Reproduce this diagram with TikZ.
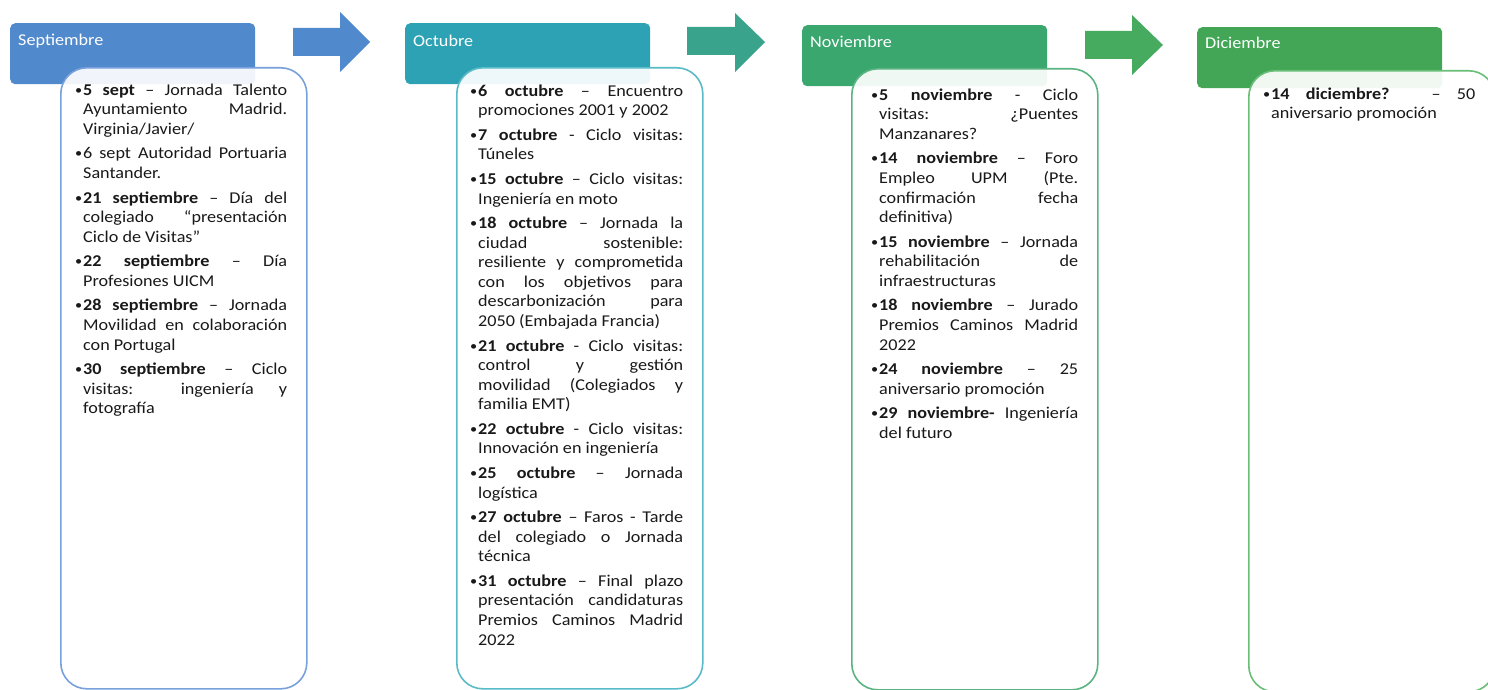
\documentclass[tikz,border=0pt]{standalone}
\usepackage{fontspec}
\setmainfont{Carlito}[FakeStretch=1.1]
\definecolor{sepC}{RGB}{80,137,204}
\definecolor{octC}{RGB}{44,162,180}
\definecolor{novC}{RGB}{58,167,110}
\definecolor{decC}{RGB}{66,166,86}
\definecolor{arrA}{RGB}{80,137,204}
\definecolor{arrB}{RGB}{58,163,140}
\definecolor{arrC}{RGB}{70,170,95}
\definecolor{sepB}{RGB}{120,160,218}
\definecolor{octB}{RGB}{90,187,200}
\definecolor{novB}{RGB}{90,180,130}
\definecolor{decB}{RGB}{105,190,120}
\definecolor{txtC}{RGB}{25,25,25}
\newlength\colw
\newcommand\bul{\makebox[6pt][l]{\hspace*{-2pt}\raisebox{1pt}{\fontsize{13}{13}\selectfont •}}}
\newcommand\jfirst[1]{\hbox to\colw{\bul#1}}
\newcommand\jcont[1]{\hbox to\colw{\hskip6pt\relax#1}}
\newcommand\lastl[1]{\hbox{\hskip6pt\relax#1}}
\newcommand\pg{\vskip4.9pt\relax}
\begin{document}
\begin{tikzpicture}[x=1pt,y=-1pt,
  hdr/.style={draw=none,minimum width=245pt,minimum height=61pt,rounded corners=5pt,inner sep=0pt,anchor=north west},
  hdrtxt/.style={inner sep=0pt,anchor=base west,text=white,font=\fontsize{16.5}{19.6}\selectfont},
  arr/.style={draw=none},
  bx/.style={minimum width=246pt,minimum height=621pt,rounded corners=26pt,line width=1.6pt,fill=white,fill opacity=0.92,inner sep=0pt,anchor=north west},
  txt/.style={inner sep=0pt,anchor=north west,text=txtC,font=\fontsize{16.5}{19.6}\selectfont}]
\useasboundingbox (0,0) rectangle (1488,690);
\clip (0,0) rectangle (1488,690);
% headers
\node[hdr,fill=sepC] (hsep) at (10,23) {};
\node[hdr,fill=octC] (hoct) at (405,23) {};
\node[hdr,fill=novC] (hnov) at (802,25) {};
\node[hdr,fill=decC] (hdec) at (1197,27) {};
\node[hdrtxt] (lsep) at (18,46) {Septiembre};
\node[hdrtxt] (loct) at (413,47) {Octubre};
\node[hdrtxt] (lnov) at (810,48) {Noviembre};
\node[hdrtxt] (ldec) at (1205,49) {Diciembre};
% arrows
\fill[arr,fill=arrA] (293,28) -- (340,28) -- (340,12) -- (370,42) -- (340,72) -- (340,56) -- (293,56) -- cycle;
\fill[arr,fill=arrB] (687,27) -- (735,27) -- (735,13) -- (765,42) -- (735,72) -- (735,55) -- (687,55) -- cycle;
\fill[arr,fill=arrC] (1085,31) -- (1132,31) -- (1132,15) -- (1163,45) -- (1132,75) -- (1132,59) -- (1085,59) -- cycle;
% boxes
\node[bx,draw=sepB] (bsep) at (60,67) {};
\node[bx,draw=octB] (boct) at (456,67) {};
\node[bx,draw=novB] (bnov) at (851,68) {};
\node[bx,draw=decB] (bdec) at (1248,70) {};
% texts
\node[txt] (tsep) at (77,75.4) {\vbox{\colw=210pt\relax\hbox{}%
\jfirst{\textbf{5 sept} – Jornada Talento}
\jcont{Ayuntamiento Madrid.}
\lastl{Virginia/Javier/}
\pg
\jfirst{6 sept Autoridad Portuaria}
\lastl{Santander.}
\pg
\jfirst{\textbf{21 septiembre} – Día del}
\jcont{colegiado “presentación}
\lastl{Ciclo de Visitas”}
\pg
\jfirst{\textbf{22 septiembre} – Día}
\lastl{Profesiones UICM}
\pg
\jfirst{\textbf{28 septiembre} – Jornada}
\jcont{Movilidad en colaboración}
\lastl{con Portugal}
\pg
\jfirst{\textbf{30 septiembre} – Ciclo}
\jcont{visitas: ingeniería y}
\lastl{fotografía}}};
\node[txt] (toct) at (472,76.4) {\vbox{\colw=211pt\relax\hbox{}%
\jfirst{\textbf{6 octubre} – Encuentro}
\lastl{promociones 2001 y 2002}
\pg
\jfirst{\textbf{7 octubre} - Ciclo visitas:}
\lastl{Túneles}
\pg
\jfirst{\textbf{15 octubre} – Ciclo visitas:}
\lastl{Ingeniería en moto}
\pg
\jfirst{\textbf{18 octubre} – Jornada la}
\jcont{ciudad sostenible:}
\jcont{resiliente y comprometida}
\jcont{con los objetivos para}
\jcont{descarbonización para}
\lastl{2050 (Embajada Francia)}
\pg
\jfirst{\textbf{21 octubre} - Ciclo visitas:}
\jcont{control y gestión}
\jcont{movilidad (Colegiados y}
\lastl{familia EMT)}
\pg
\jfirst{\textbf{22 octubre} - Ciclo visitas:}
\lastl{Innovación en ingeniería}
\pg
\jfirst{\textbf{25 octubre} – Jornada}
\lastl{logística}
\pg
\jfirst{\textbf{27 octubre} – Faros - Tarde}
\jcont{del colegiado o Jornada}
\lastl{técnica}
\pg
\jfirst{\textbf{31 octubre} – Final plazo}
\jcont{presentación candidaturas}
\jcont{Premios Caminos Madrid}
\lastl{2022}}};
\node[txt] (tnov) at (873,80.4) {\vbox{\colw=205pt\relax\hbox{}%
\jfirst{\textbf{5 noviembre} - Ciclo}
\jcont{visitas: ¿Puentes}
\lastl{Manzanares?}
\pg
\jfirst{\textbf{14 noviembre} – Foro}
\jcont{Empleo UPM (Pte.}
\jcont{confirmación fecha}
\lastl{definitiva)}
\pg
\jfirst{\textbf{15 noviembre} – Jornada}
\jcont{rehabilitación de}
\lastl{infraestructuras}
\pg
\jfirst{\textbf{18 noviembre} – Jurado}
\jcont{Premios Caminos Madrid}
\lastl{2022}
\pg
\jfirst{\textbf{24 noviembre} – 25}
\lastl{aniversario promoción}
\pg
\jfirst{\textbf{29 noviembre-} Ingeniería}
\lastl{del futuro}}};
\node[txt] (tdec) at (1265,79.4) {\vbox{\colw=210pt\relax\hbox{}%
\jfirst{\textbf{14 diciembre?} – 50}
\lastl{aniversario promoción}}};
\end{tikzpicture}
\end{document}
